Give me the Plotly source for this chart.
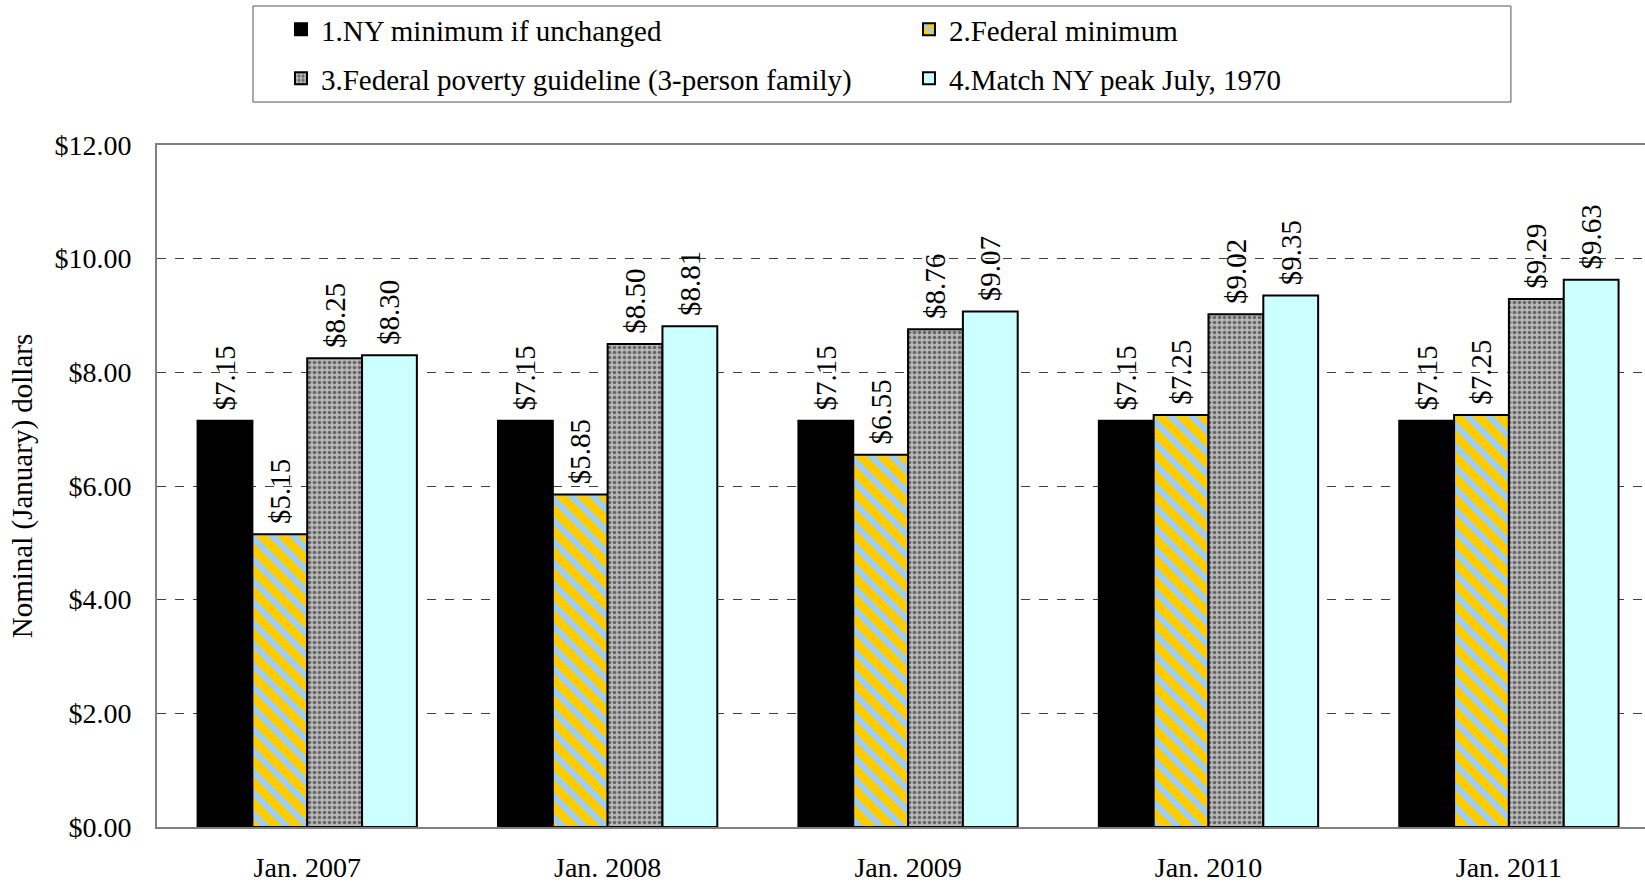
import plotly.graph_objects as go

# Minimum wage comparison, January of each year
periods = ["Jan. 2007", "Jan. 2008", "Jan. 2009", "Jan. 2010", "Jan. 2011"]
ny_unchanged = [7.15, 7.15, 7.15, 7.15, 7.15]
federal_min = [5.15, 5.85, 6.55, 7.25, 7.25]
poverty_guideline = [8.25, 8.50, 8.76, 9.02, 9.29]
ny_peak_1970 = [8.30, 8.81, 9.07, 9.35, 9.63]

series_names = [
    "1.NY minimum if unchanged",
    "2.Federal minimum",
    "3.Federal poverty guideline (3-person family)",
    "4.Match NY peak July, 1970",
]
y_ticks = [0, 2, 4, 6, 8, 10, 12]
y_tick_labels = ["$%.2f" % v for v in y_ticks]

FONT = "Liberation Serif"
FS = 28
FS_BIG = 29

fig = go.Figure()

common = dict(
    x=periods,
    # leading no-break space keeps a small gap between bar top and value
    texttemplate="\u00a0$%{y:.2f}",
    textposition="outside",
    textangle=-90,
    textfont=dict(family=FONT, size=FS_BIG, color="black"),
    constraintext="none",
    cliponaxis=False,
)

# first legend row: series 1 and 2; second row: series 3 and 4
fig.add_trace(go.Bar(
    y=ny_unchanged, name=series_names[0], legend="legend",
    marker=dict(color="black", line=dict(color="black", width=2)),
    **common,
))
fig.add_trace(go.Bar(
    y=federal_min, name=series_names[1], legend="legend",
    marker=dict(
        color="#FFCC00",
        line=dict(color="black", width=2),
        pattern=dict(shape="\\", fillmode="overlay", fgcolor="#99CCFF",
                     fgopacity=1, size=15, solidity=0.4),
    ),
    **common,
))
fig.add_trace(go.Bar(
    y=poverty_guideline, name=series_names[2], legend="legend2",
    marker=dict(
        color="#B8B8B8",
        line=dict(color="black", width=2),
        pattern=dict(shape=".", fillmode="overlay", fgcolor="#666666",
                     fgopacity=1, size=5, solidity=0.4),
    ),
    **common,
))
fig.add_trace(go.Bar(
    y=ny_peak_1970, name=series_names[3], legend="legend2",
    marker=dict(color="#CCFFFF", line=dict(color="black", width=2)),
    **common,
))

legend_style = dict(
    orientation="h",
    x=0.0645, xanchor="left", yanchor="top",
    entrywidth=555, entrywidthmode="pixels",
    indentation=28,
    borderwidth=0,
    bgcolor="rgba(0,0,0,0)",
    font=dict(family=FONT, size=FS_BIG, color="black"),
    traceorder="normal",
)

fig.update_layout(
    width=1645, height=884,
    margin=dict(l=157, r=0, t=145, b=57),
    paper_bgcolor="white", plot_bgcolor="white",
    font=dict(family=FONT, size=FS, color="black"),
    barmode="group", bargap=0.27, bargroupgap=0,
    showlegend=True,
    legend=dict(y=1.2069, **legend_style),
    legend2=dict(y=1.135, **legend_style),
    shapes=[dict(
        type="rect", xref="paper", yref="paper",
        x0=0.0645, x1=0.9099, y0=1.063, y1=1.2038,
        line=dict(color="#555555", width=1), fillcolor="rgba(0,0,0,0)",
        layer="below",
    )],
    xaxis=dict(
        range=[-0.5, 4.453],
        showline=True, linecolor="#808080", linewidth=2, mirror=True,
        showgrid=False, ticks="",
        tickfont=dict(family=FONT, size=FS),
        ticklabelstandoff=14,
    ),
    yaxis=dict(
        range=[0, 12],
        tickmode="array", tickvals=y_ticks, ticktext=y_tick_labels,
        showline=True, linecolor="#808080", linewidth=2,
        showgrid=True, gridcolor="#404040", gridwidth=1, griddash="dash",
        zeroline=False, ticks="",
        ticklabelstandoff=18,
        tickfont=dict(family=FONT, size=FS),
        title=dict(text="Nominal (January) dollars", standoff=13,
                   font=dict(family=FONT, size=FS_BIG)),
    ),
)

fig.write_html("out.html")
